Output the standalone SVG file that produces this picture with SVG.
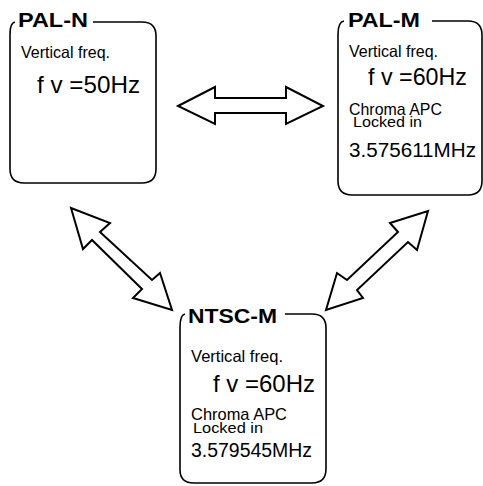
<svg xmlns="http://www.w3.org/2000/svg" width="483" height="486" viewBox="0 0 483 486">
<style>
.box{fill:none;stroke:#000;stroke-width:1.6}
.arr{fill:#fff;stroke:#000;stroke-width:2;stroke-linejoin:miter}
.t{font-family:"Liberation Sans",Arial,sans-serif;fill:#000}
.title{font-weight:bold;font-size:21px}
.s{font-size:16.5px}
.c{font-size:17px}
.l{font-size:14px}
.b{font-size:24px}
.m{font-size:20px}
</style>
<rect width="483" height="486" fill="#fff"/>
<g id="connectors">
<polygon class="arr" points="178,106 215,87 215,98 286,98 286,87 323,106 286,124 286,113 215,113 215,124"/>
<polygon class="arr" points="71,208 110,223 100,232 152,280 160,273 172,310 133,298 142,289 92,240 83,249"/>
<polygon class="arr" points="428,211 417,250 408,242 357,290 363,298 326,310 337,273 347,280 398,232 390,223"/>
</g>
<g id="pal-n">
<path class="box" d="M15,22 Q10,23 10,34 L10,169 Q10,183 24,183 L142,183 Q156,183 156,169 L156,36 Q156,22 142,22 L93,22"/>
<text class="t title" x="18" y="27" textLength="70" lengthAdjust="spacingAndGlyphs">PAL-N</text>
<text class="t s" x="21" y="58" textLength="89" lengthAdjust="spacingAndGlyphs">Vertical freq.</text>
<text class="t b" x="37" y="93" textLength="103" lengthAdjust="spacingAndGlyphs">f v =50Hz</text>
</g>
<g id="pal-m">
<path class="box" d="M344,21 Q338,22 338,34 L338,181 Q338,195 352,195 L468,195 Q482,195 482,181 L482,35 Q482,21 468,21 L432,21"/>
<text class="t title" x="348" y="27" textLength="72" lengthAdjust="spacingAndGlyphs">PAL-M</text>
<text class="t s" x="349" y="57" textLength="89" lengthAdjust="spacingAndGlyphs">Vertical freq.</text>
<text class="t b" x="368" y="85" textLength="99" lengthAdjust="spacingAndGlyphs">f v =60Hz</text>
<text class="t c" x="349" y="115" textLength="93" lengthAdjust="spacingAndGlyphs">Chroma APC</text>
<text class="t l" x="353" y="127" textLength="69" lengthAdjust="spacingAndGlyphs">Locked in</text>
<text class="t m" x="349" y="157" textLength="127" lengthAdjust="spacingAndGlyphs">3.575611MHz</text>
</g>
<g id="ntsc-m">
<path class="box" d="M185,314 Q180,315 180,327 L180,470 Q180,483 194,483 L312,483 Q326,483 326,469 L326,328 Q326,314 312,314 L285,314"/>
<text class="t title" x="188" y="323" textLength="89" lengthAdjust="spacingAndGlyphs">NTSC-M</text>
<text class="t s" x="191" y="362" textLength="92" lengthAdjust="spacingAndGlyphs">Vertical freq.</text>
<text class="t b" x="213" y="392" textLength="102" lengthAdjust="spacingAndGlyphs">f v =60Hz</text>
<text class="t c" x="191" y="420" textLength="96" lengthAdjust="spacingAndGlyphs">Chroma APC</text>
<text class="t l" x="193" y="433" textLength="70" lengthAdjust="spacingAndGlyphs">Locked in</text>
<text class="t m" x="191" y="457" textLength="121" lengthAdjust="spacingAndGlyphs">3.579545MHz</text>
</g>
</svg>
